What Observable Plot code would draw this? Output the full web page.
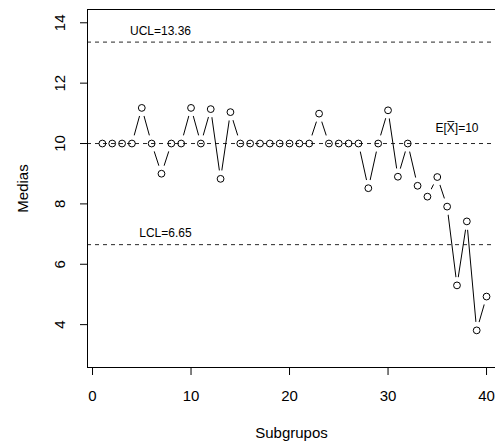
<!DOCTYPE html>
<html>
<head>
<meta charset="utf-8">
<script src="https://cdn.jsdelivr.net/npm/d3@7"></script>
<script src="https://cdn.jsdelivr.net/npm/@observablehq/plot@0.6"></script>
<style>
  html, body { margin: 0; padding: 0; background: #fff; }
  #chart svg { display: block; }
</style>
</head>
<body>
<div id="chart"></div>
<script>
const subgroups = [1,2,3,4,5,6,7,8,9,10,11,12,13,14,15,16,17,18,19,20,21,22,23,24,25,26,27,28,29,30,31,32,33,34,35,36,37,38,39,40];
const means = [10,10,10,10,11.18,10,9.0,10,10,11.18,10,11.14,8.83,11.04,10,10,10,10,10,10,10,10,10.99,10,10,10,10,8.52,10,11.1,8.9,10,8.6,8.24,8.89,7.91,5.3,7.42,3.81,4.93];
const limitValues = [13.36, 10, 6.65];
const limitLabels = ["UCL=13.36", "E[X\u0305]=10", "LCL=6.65"];
const labelX = [6.9, 37.0, 7.4];
const labelY = [13.71, 10.5, 7.02];
const xTicks = [0, 10, 20, 30, 40];
const yTicks = [4, 6, 8, 10, 12, 14];

const data = subgroups.map((s, i) => ({s, m: means[i]}));
const labels = limitLabels.map((t, i) => ({t, x: labelX[i], y: labelY[i]}));

const font = "'Liberation Sans', Arial, Helvetica, sans-serif";

const chart = Plot.plot({
  width: 495,
  height: 445,
  marginLeft: 87,
  marginRight: 0,
  marginTop: 9,
  marginBottom: 78,
  style: {fontFamily: font, fontSize: "15px", color: "#000", background: "#fff"},
  x: {domain: [-0.51, 40.91]},
  y: {domain: [2.58, 14.44]},
  marks: [
    Plot.line(data, {x: "s", y: "m", stroke: "#000", strokeWidth: 1}),
    Plot.dot(data, {x: "s", y: "m", r: 8.5, fill: "#fff", stroke: "none"}),
    Plot.dot(data, {x: "s", y: "m", r: 3.4, fill: "none", stroke: "#000", strokeWidth: 1}),
    Plot.ruleY(limitValues, {stroke: "#000", strokeWidth: 1, strokeDasharray: "4,4", strokeOpacity: 0.85}),
    Plot.text(labels, {x: "x", y: "y", text: "t", fontSize: 12, fill: "#000", textAnchor: "middle"}),
    Plot.ruleX([-0.51], {stroke: "#000", strokeWidth: 1}),
    Plot.ruleY([2.58, 14.44], {stroke: "#000", strokeWidth: 1}),
    Plot.axisX({ticks: xTicks, tickSize: 8, tickPadding: 15, fontSize: 15, label: "Subgrupos", labelAnchor: "center", labelOffset: 70, labelArrow: "none"}),
    Plot.axisY({ticks: yTicks, tickSize: 7, tickPadding: 16, tickRotate: -90, fontSize: 15, label: "Medias", labelAnchor: "center", labelOffset: 70, labelArrow: "none"})
  ]
});
document.getElementById("chart").appendChild(chart);
</script>
</body>
</html>
